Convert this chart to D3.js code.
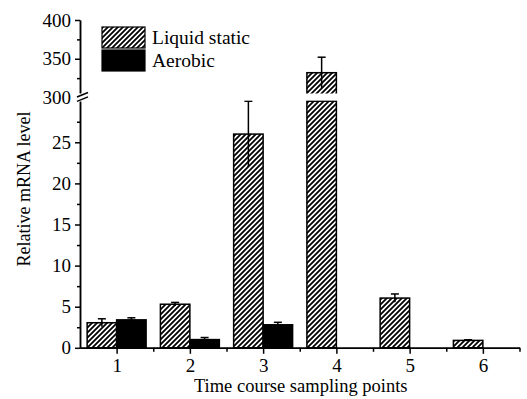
<!DOCTYPE html>
<html><head><meta charset="utf-8">
<script src="https://cdn.jsdelivr.net/npm/d3@7"></script>
<style>html,body{margin:0;padding:0;background:#fff;}</style>
</head><body>
<svg id="chart" width="527" height="399"></svg>
<script>
const categories = ["1","2","3","4","5","6"];
const seriesNames = ["Liquid static","Aerobic"];
const liquidStatic = [3.05, 5.3, 26, 332, 6.05, 0.9];
const liquidStaticErr = [0.48, 0.22, 4, 20, 0.5, 0.08];
const aerobic = [3.4, 1.0, 2.8, null, null, null];
const aerobicErr = [0.25, 0.25, 0.3, null, null, null];
const lowerTicks = [0,5,10,15,20,25];
const lowerMinor = [2.5,7.5,12.5,17.5,22.5,27.5];
const upperTicks = [300,350,400];
const upperMinor = [325,375];
const lowerDomain = [0,30];
const upperDomain = [300,400];

const svg = d3.select("#chart");
const font = "'Liberation Serif','Times New Roman',serif";
const L = 80, R = 519.5;

const defs = svg.append("defs");
const pat = defs.append("pattern").attr("id","hatch").attr("patternUnits","userSpaceOnUse")
  .attr("width",5).attr("height",5);
pat.append("rect").attr("width",5).attr("height",5).attr("fill","#fff");
pat.append("path").attr("d","M-1,1 l2,-2 M0,5 l5,-5 M4,6 l2,-2")
  .attr("stroke","#000").attr("stroke-width",1.8);

const x = d3.scaleBand().domain(categories).range([L,R]).paddingInner(0.195).paddingOuter(0.0975);
const xs = d3.scaleBand().domain(seriesNames).range([0,x.bandwidth()]);
const xLin = d3.scaleLinear().domain([0.5,6.5]).range([L,R]);
const yLow = d3.scaleLinear().domain(lowerDomain).range([347.8,101.2]);
const yUp = d3.scaleLinear().domain(upperDomain).range([97.5,20]);

const data = [];
categories.forEach((c,i)=>{
  data.push({c, s:seriesNames[0], v:liquidStatic[i], e:liquidStaticErr[i]});
  if (aerobic[i] != null) data.push({c, s:seriesNames[1], v:aerobic[i], e:aerobicErr[i]});
});
const fillOf = s => s===seriesNames[0] ? "url(#hatch)" : "#000";

// lower parts of bars
svg.append("g").selectAll("rect").data(data).join("rect")
  .attr("x", d=>x(d.c)+xs(d.s)).attr("width", xs.bandwidth())
  .attr("y", d=>yLow(Math.min(d.v, lowerDomain[1])))
  .attr("height", d=>yLow(0)-yLow(Math.min(d.v, lowerDomain[1])))
  .attr("fill", d=>fillOf(d.s)).attr("stroke","#000").attr("stroke-width",1.5);
// upper parts of bars
const upData = data.filter(d=>d.v>upperDomain[0]);
svg.append("g").selectAll("rect").data(upData).join("rect")
  .attr("x", d=>x(d.c)+xs(d.s)).attr("width", xs.bandwidth())
  .attr("y", d=>yUp(d.v)).attr("height", d=>yUp(upperDomain[0])-yUp(d.v))
  .attr("fill", d=>fillOf(d.s)).attr("stroke","#000").attr("stroke-width",1.5);

// error bars
const yv = v => v>upperDomain[0] ? yUp(v) : yLow(v);
const eb = svg.append("g").attr("stroke","#000").attr("stroke-width",1.5);
data.forEach(d=>{
  const cx = x(d.c)+xs(d.s)+xs.bandwidth()/2;
  const top = yv(Math.min(d.v+d.e, d.v>upperDomain[0]?upperDomain[1]:lowerDomain[1]));
  const bot = yv(d.v-d.e);
  eb.append("line").attr("x1",cx).attr("x2",cx).attr("y1",top).attr("y2",bot);
  eb.append("line").attr("x1",cx-4).attr("x2",cx+4).attr("y1",top).attr("y2",top);
});

// break band
const bandTop = yUp(upperDomain[0])-4, bandBot = yLow(lowerDomain[1])-0.8;
svg.append("rect").attr("x",L+1).attr("y",bandTop).attr("width",R-L).attr("height",bandBot-bandTop).attr("fill","#fff");

// y axes
function styleAxis(g){
  g.selectAll("path.domain").attr("stroke","#000").attr("stroke-width",1.5);
  g.selectAll(".tick line").attr("stroke","#000").attr("stroke-width",1.5);
  g.selectAll("text").attr("font-family",font).attr("font-size",19).attr("fill","#000");
}
const gl = svg.append("g").attr("transform",`translate(${L},0)`)
  .call(d3.axisLeft(yLow).tickValues(lowerTicks).tickSize(5).tickSizeOuter(0).tickPadding(4));
styleAxis(gl);
const glm = svg.append("g").attr("transform",`translate(${L},0)`)
  .call(d3.axisLeft(yLow).tickValues(lowerMinor).tickSize(3).tickSizeOuter(0).tickFormat(""));
styleAxis(glm);
const gu = svg.append("g").attr("transform",`translate(${L},0)`)
  .call(d3.axisLeft(yUp).tickValues(upperTicks).tickSize(5).tickSizeOuter(0).tickPadding(4));
styleAxis(gu);
const gum = svg.append("g").attr("transform",`translate(${L},0)`)
  .call(d3.axisLeft(yUp).tickValues(upperMinor).tickSize(3).tickSizeOuter(0).tickFormat(""));
styleAxis(gum);
// axis break gap and slashes
svg.append("rect").attr("x",L-8).attr("y",bandTop).attr("width",10).attr("height",bandBot-bandTop).attr("fill","#fff");
const brk = svg.append("g").attr("stroke","#000").attr("stroke-width",1.5);
brk.append("line").attr("x1",L-3).attr("y1",bandTop+3.5).attr("x2",L+8).attr("y2",bandTop-1);
brk.append("line").attr("x1",L-3).attr("y1",bandBot+1).attr("x2",L+8).attr("y2",bandBot-3.5);

// x axis
const gx = svg.append("g").attr("transform",`translate(0,${yLow(0)})`)
  .call(d3.axisBottom(xLin).tickValues([1,2,3,4,5,6]).tickFormat(d=>categories[d-1]).tickSize(6).tickSizeOuter(0).tickPadding(5));
styleAxis(gx);
const gxm = svg.append("g").attr("transform",`translate(0,${yLow(0)})`)
  .call(d3.axisBottom(xLin).tickValues([1.5,2.5,3.5,4.5,5.5,6.5]).tickSize(4).tickSizeOuter(0).tickFormat(""));
styleAxis(gxm);

// titles
svg.append("text").attr("x",(L+R)/2+1).attr("y",392).attr("text-anchor","middle")
  .attr("font-family",font).attr("font-size",18.5).text("Time course sampling points");
svg.append("text").attr("transform","translate(30,189) rotate(-90)").attr("text-anchor","middle")
  .attr("font-family",font).attr("font-size",18).text("Relative mRNA level");

// legend
const lg = svg.append("g");
seriesNames.forEach((s,i)=>{
  lg.append("rect").attr("x",102).attr("y",27+i*23).attr("width",43).attr("height",21)
    .attr("fill",fillOf(s)).attr("stroke","#000").attr("stroke-width",1.2);
  lg.append("text").attr("x",152).attr("y",37.5+i*23).attr("dy","0.35em")
    .attr("font-family",font).attr("font-size",19.5).text(s);
});
</script>
</body></html>
